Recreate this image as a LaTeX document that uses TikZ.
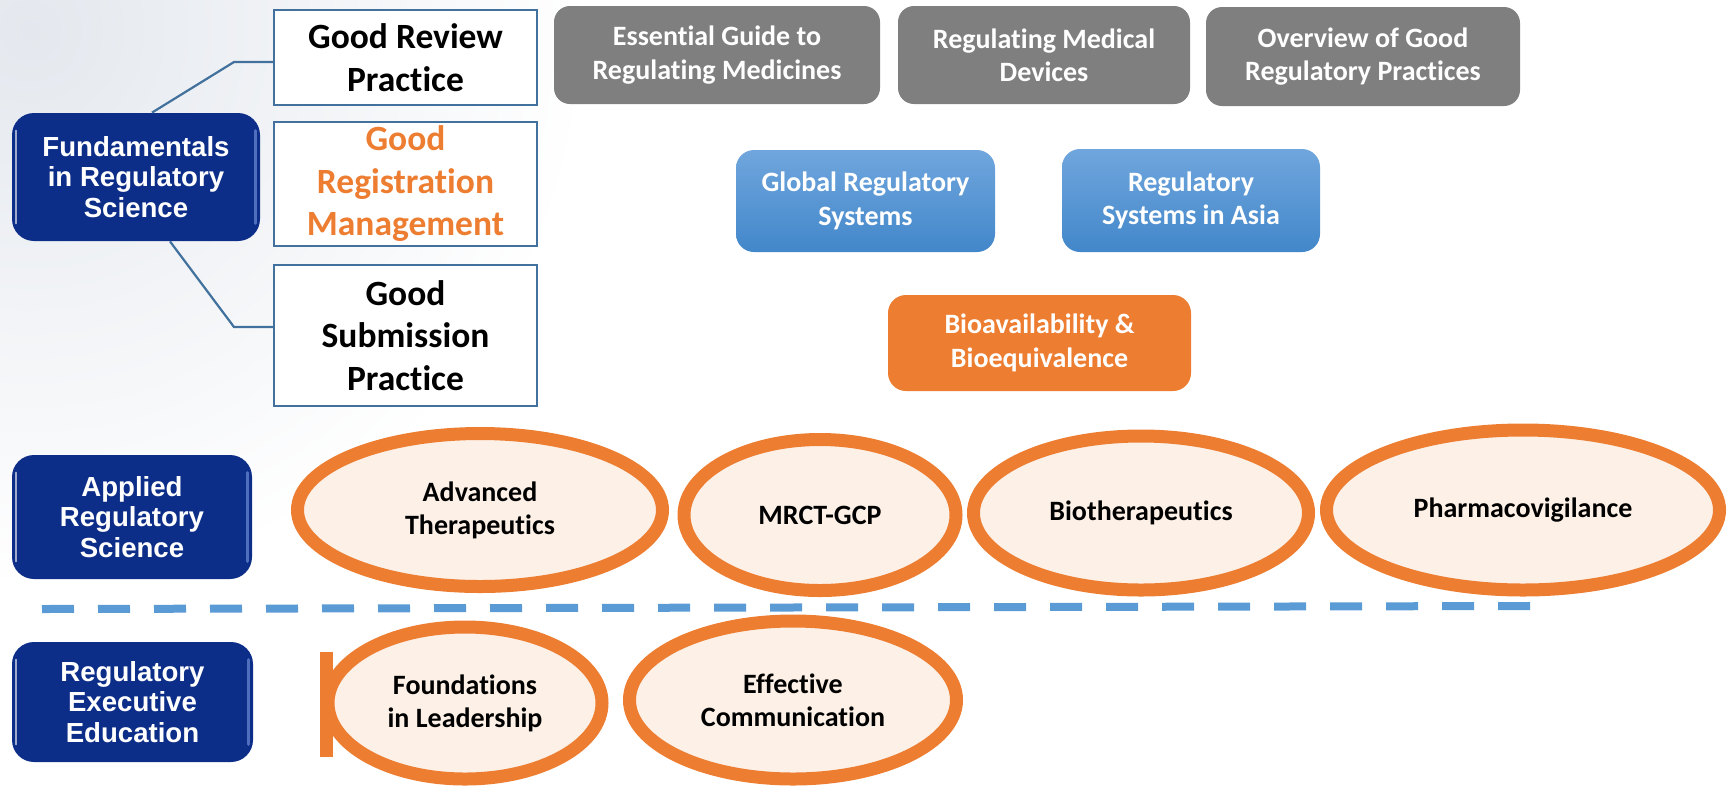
\documentclass[tikz,border=0pt]{standalone}
\usepackage{fontspec}
\setmainfont{Carlito}[Ligatures=NoCommon]
\newfontfamily\arialfont{Liberation Sans}
\usetikzlibrary{shapes.geometric}
\definecolor{navy}{RGB}{13,46,136}
\definecolor{navyhi}{RGB}{80,110,190}
\definecolor{steel}{RGB}{65,113,156}
\definecolor{boxgray}{RGB}{127,127,127}
\definecolor{bluetop}{RGB}{112,166,221}
\definecolor{bluebot}{RGB}{66,135,202}
\definecolor{orange1}{RGB}{237,125,49}
\definecolor{peach}{RGB}{252,240,231}
\definecolor{dashblue}{RGB}{91,155,213}
\definecolor{bgtint}{RGB}{228,232,238}
\tikzset{
  navybox/.style={rounded corners=11pt, fill=navy, text=white, align=center, inner sep=0pt,
    font=\arialfont\bfseries\fontsize{13.8}{15.3}\selectfont},
  whitebox/.style={draw=steel, line width=1.25pt, fill=white, align=center, inner sep=0pt,
    font=\bfseries\fontsize{17.75}{21.25}\selectfont},
  graybox/.style={rounded corners=8pt, fill=boxgray, text=white, align=center, inner sep=0pt,
    font=\bfseries\fontsize{14}{16.6}\selectfont},
  bluebox/.style={rounded corners=9pt, top color=bluetop, bottom color=bluebot, text=white, align=center, inner sep=0pt,
    font=\bfseries\fontsize{14}{16.8}\selectfont},
  orangebox/.style={rounded corners=9pt, fill=orange1, text=white, align=center, inner sep=0pt,
    font=\bfseries\fontsize{14}{16.8}\selectfont},
  course/.style={ellipse, draw=orange1, line width=6.5pt, fill=peach, align=center, inner sep=0pt,
    font=\bfseries\fontsize{14}{16.6}\selectfont},
  conn/.style={draw=steel, line width=1.1pt},
  divider/.style={draw=dashblue, line width=4pt, dash pattern=on 16pt off 12pt},
  gloss/.style={draw=navyhi, line width=1.6pt, line cap=round},
}
\begin{document}
\begin{tikzpicture}[x=0.5pt, y=-0.5pt]
\useasboundingbox (0,0) rectangle (1735,789);
\begin{scope}
\clip (0,0) rectangle (1735,789);
\shade[inner color=bgtint, outer color=white] (30,30) circle (560);
\end{scope}

% left category boxes
\node[navybox, minimum width=124pt, minimum height=64pt] (fund) at (136,177) {Fundamentals\\in Regulatory\\Science};
\node[navybox, minimum width=120pt, minimum height=62pt] (appl) at (132,517) {Applied\\Regulatory\\Science};
\node[navybox, minimum width=120.5pt, minimum height=60pt] (exec) at (132.5,702) {Regulatory\\Executive\\Education};
\foreach \n in {fund,appl,exec}{
  \draw[gloss] ([xshift=-2.5pt,yshift=-9pt]\n.north east) -- ([xshift=-2.5pt,yshift=9pt]\n.south east);
  \draw[gloss, draw=white!60!navy, line width=1pt] ([xshift=2pt,yshift=-9pt]\n.north west) -- ([xshift=2pt,yshift=9pt]\n.south west);
}

% good practice boxes
\node[whitebox, minimum width=131.5pt, minimum height=47.5pt] (grp) at (405.5,57.5) {Good Review\\Practice};
\node[whitebox, minimum width=131.5pt, minimum height=62pt, text=orange1] (grm) at (405.5,184) {Good\\Registration\\Management};
\node[whitebox, minimum width=131.5pt, minimum height=70.5pt] (gsp) at (405.5,335.5) {Good\\Submission\\Practice};

% connectors
\coordinate (k1) at (234,62);
\coordinate (k2) at (234,327);
\draw[conn] ([xshift=8pt]fund.north) -- (k1) -- (k1 -| grp.west);
\draw[conn] ([xshift=17pt]fund.south) -- (k2) -- (k2 -| gsp.west);

% gray courses
\node[graybox, minimum width=163pt, minimum height=49pt] (egrm) at (717,55) {Essential Guide to\\Regulating Medicines};
\node[graybox, minimum width=146pt, minimum height=49pt] (rmd) at (1044,55) {Regulating Medical\\Devices};
\node[graybox, minimum width=157pt, minimum height=49.5pt] (ogrp) at (1363,56.5) {Overview of Good\\Regulatory Practices};

% blue courses
\node[bluebox, minimum width=129.5pt, minimum height=51pt] (grs) at (865.5,201) {Global Regulatory\\Systems};
\node[bluebox, minimum width=129pt, minimum height=51.5pt] (rsa) at (1191,200.5) {Regulatory\\Systems in Asia};

% orange course
\node[orangebox, minimum width=151.5pt, minimum height=48pt] (babe) at (1039.5,343) {Bioavailability \&\\Bioequivalence};

% applied ellipses
\node[course, minimum width=182.5pt, minimum height=76.5pt] (adv) at (480,510) {Advanced\\Therapeutics};
\node[course, minimum width=136pt, minimum height=75.5pt] (mrct) at (820,515) {MRCT-GCP};
\node[course, minimum width=167.5pt, minimum height=77pt] (bio) at (1141,513) {Biotherapeutics};
\node[course, minimum width=196.5pt, minimum height=80pt] (pv) at (1523,510) {Pharmacovigilance};

% divider
\coordinate (d1) at (42,609);
\coordinate (d2) at (1530,606);
\draw[divider] (d1) -- (d2);

% executive ellipses
\node[course, minimum width=137pt, minimum height=76pt] (fil) at (465,703) {Foundations\\in Leadership};
\node[course, minimum width=163.5pt, minimum height=79pt] (ec) at (793,700) {Effective\\Communication};
\coordinate (b1) at (326.5,652);
\coordinate (b2) at (326.5,757);
\draw[draw=orange1, line width=6.5pt] (b1) -- (b2);
\end{tikzpicture}
\end{document}
